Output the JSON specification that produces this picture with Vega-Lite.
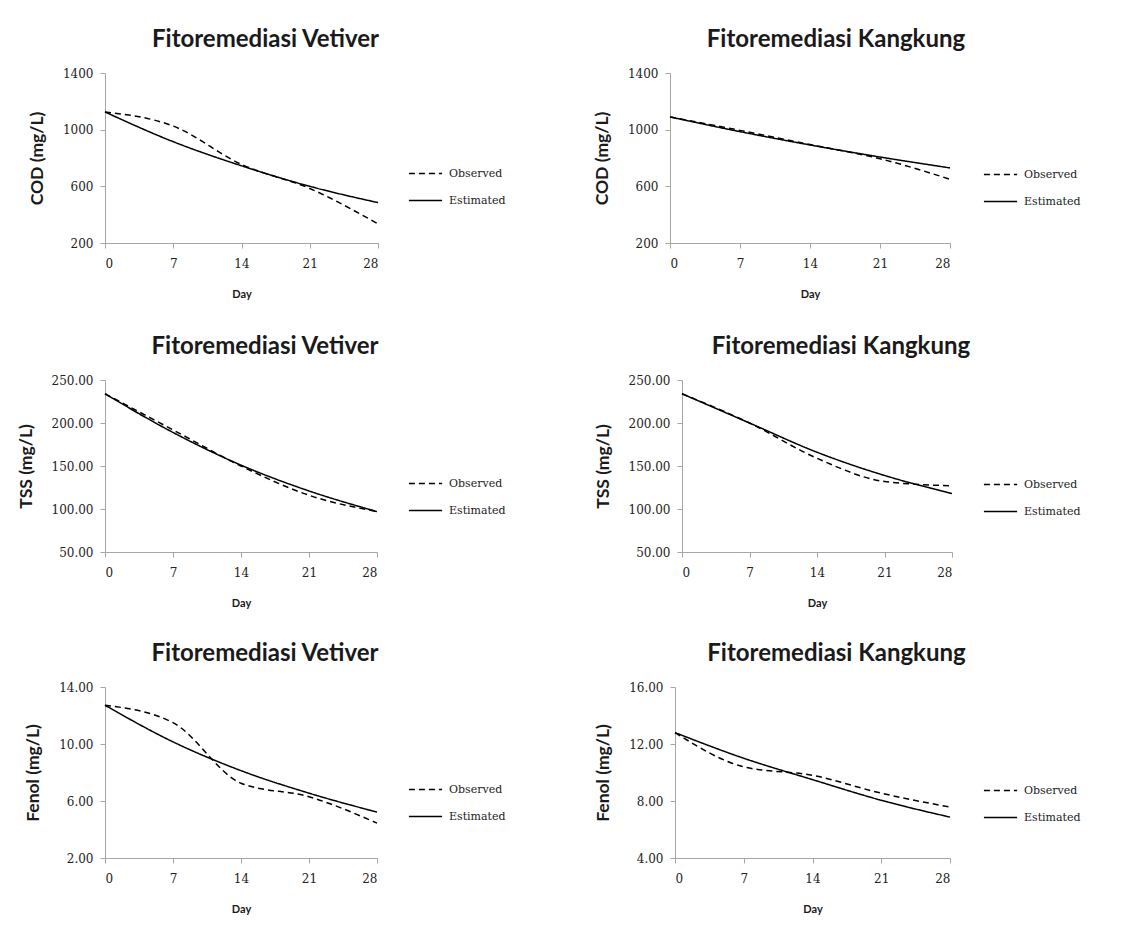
{
  "$schema": "https://vega.github.io/schema/vega-lite/v6.json",
  "background": "white",
  "padding": {"left": 17, "top": 28, "right": 250, "bottom": 5},
  "datasets": {
    "d": [
      {"panel": "COD-V", "series": "Observed", "day": 0, "value": 1125},
      {"panel": "COD-V", "series": "Observed", "day": 7, "value": 1025},
      {"panel": "COD-V", "series": "Observed", "day": 14, "value": 755},
      {"panel": "COD-V", "series": "Observed", "day": 21, "value": 585},
      {"panel": "COD-V", "series": "Observed", "day": 28, "value": 335},
      {"panel": "COD-V", "series": "Estimated", "day": 0, "value": 1125},
      {"panel": "COD-V", "series": "Estimated", "day": 7, "value": 915},
      {"panel": "COD-V", "series": "Estimated", "day": 14, "value": 745},
      {"panel": "COD-V", "series": "Estimated", "day": 21, "value": 600},
      {"panel": "COD-V", "series": "Estimated", "day": 28, "value": 485},
      {"panel": "COD-K", "series": "Observed", "day": 0, "value": 1090},
      {"panel": "COD-K", "series": "Observed", "day": 7, "value": 995},
      {"panel": "COD-K", "series": "Observed", "day": 14, "value": 895},
      {"panel": "COD-K", "series": "Observed", "day": 21, "value": 795},
      {"panel": "COD-K", "series": "Observed", "day": 28, "value": 650},
      {"panel": "COD-K", "series": "Estimated", "day": 0, "value": 1090},
      {"panel": "COD-K", "series": "Estimated", "day": 7, "value": 986},
      {"panel": "COD-K", "series": "Estimated", "day": 14, "value": 892},
      {"panel": "COD-K", "series": "Estimated", "day": 21, "value": 807},
      {"panel": "COD-K", "series": "Estimated", "day": 28, "value": 730},
      {"panel": "TSS-V", "series": "Observed", "day": 0, "value": 234},
      {"panel": "TSS-V", "series": "Observed", "day": 7, "value": 192},
      {"panel": "TSS-V", "series": "Observed", "day": 14, "value": 150},
      {"panel": "TSS-V", "series": "Observed", "day": 21, "value": 116},
      {"panel": "TSS-V", "series": "Observed", "day": 28, "value": 97},
      {"panel": "TSS-V", "series": "Estimated", "day": 0, "value": 234},
      {"panel": "TSS-V", "series": "Estimated", "day": 7, "value": 189},
      {"panel": "TSS-V", "series": "Estimated", "day": 14, "value": 151},
      {"panel": "TSS-V", "series": "Estimated", "day": 21, "value": 121},
      {"panel": "TSS-V", "series": "Estimated", "day": 28, "value": 97},
      {"panel": "TSS-K", "series": "Observed", "day": 0, "value": 234},
      {"panel": "TSS-K", "series": "Observed", "day": 7, "value": 200},
      {"panel": "TSS-K", "series": "Observed", "day": 14, "value": 159},
      {"panel": "TSS-K", "series": "Observed", "day": 21, "value": 132},
      {"panel": "TSS-K", "series": "Observed", "day": 28, "value": 127},
      {"panel": "TSS-K", "series": "Estimated", "day": 0, "value": 234},
      {"panel": "TSS-K", "series": "Estimated", "day": 7, "value": 200},
      {"panel": "TSS-K", "series": "Estimated", "day": 14, "value": 166},
      {"panel": "TSS-K", "series": "Estimated", "day": 21, "value": 139},
      {"panel": "TSS-K", "series": "Estimated", "day": 28, "value": 118},
      {"panel": "Fenol-V", "series": "Observed", "day": 0, "value": 12.72},
      {"panel": "Fenol-V", "series": "Observed", "day": 7, "value": 11.5},
      {"panel": "Fenol-V", "series": "Observed", "day": 14, "value": 7.25},
      {"panel": "Fenol-V", "series": "Observed", "day": 21, "value": 6.3},
      {"panel": "Fenol-V", "series": "Observed", "day": 28, "value": 4.45},
      {"panel": "Fenol-V", "series": "Estimated", "day": 0, "value": 12.72},
      {"panel": "Fenol-V", "series": "Estimated", "day": 7, "value": 10.15},
      {"panel": "Fenol-V", "series": "Estimated", "day": 14, "value": 8.13},
      {"panel": "Fenol-V", "series": "Estimated", "day": 21, "value": 6.55},
      {"panel": "Fenol-V", "series": "Estimated", "day": 28, "value": 5.22},
      {"panel": "Fenol-K", "series": "Observed", "day": 0, "value": 12.8},
      {"panel": "Fenol-K", "series": "Observed", "day": 7, "value": 10.4},
      {"panel": "Fenol-K", "series": "Observed", "day": 14, "value": 9.8},
      {"panel": "Fenol-K", "series": "Observed", "day": 21, "value": 8.55},
      {"panel": "Fenol-K", "series": "Observed", "day": 28, "value": 7.57},
      {"panel": "Fenol-K", "series": "Estimated", "day": 0, "value": 12.8},
      {"panel": "Fenol-K", "series": "Estimated", "day": 7, "value": 11.0},
      {"panel": "Fenol-K", "series": "Estimated", "day": 14, "value": 9.5},
      {"panel": "Fenol-K", "series": "Estimated", "day": 21, "value": 8.05},
      {"panel": "Fenol-K", "series": "Estimated", "day": 28, "value": 6.87}
    ]
  },
  "bounds": "flush",
  "spacing": 307,
  "vconcat": [
    {
      "bounds": "flush",
      "spacing": 292,
      "resolve": {"scale": {"strokeDash": "independent"}, "legend": {"strokeDash": "independent"}},
      "hconcat": [
        {
          "width": 273, "height": 170,
          "data": {"name": "d"},
          "transform": [{"filter": "datum.panel == 'COD-V'"}],
          "title": {"text": "Fitoremediasi Vetiver", "dx": 24},
          "mark": {"type": "line", "interpolate": "monotone", "color": "black", "strokeWidth": 1.5},
          "encoding": {
            "x": {"field": "day", "type": "quantitative", "scale": {"domain": [0, 28], "nice": false}, "axis": {"values": [0, 7, 14, 21, 28], "title": "Day"}},
            "y": {"field": "value", "type": "quantitative", "scale": {"domain": [200, 1400], "nice": false}, "axis": {"values": [200, 600, 1000, 1400], "format": "d", "title": "COD (mg/L)"}},
            "strokeDash": {"field": "series", "type": "nominal", "scale": {"domain": ["Observed", "Estimated"], "range": [[6, 4], [1, 0]]}, "legend": {"legendX": 303, "legendY": 83}}
          }
        },
        {
          "width": 280, "height": 170,
          "data": {"name": "d"},
          "transform": [{"filter": "datum.panel == 'COD-K'"}],
          "title": {"text": "Fitoremediasi Kangkung", "dx": 26},
          "mark": {"type": "line", "interpolate": "monotone", "color": "black", "strokeWidth": 1.5},
          "encoding": {
            "x": {"field": "day", "type": "quantitative", "scale": {"domain": [0, 28], "nice": false}, "axis": {"values": [0, 7, 14, 21, 28], "title": "Day"}},
            "y": {"field": "value", "type": "quantitative", "scale": {"domain": [200, 1400], "nice": false}, "axis": {"values": [200, 600, 1000, 1400], "format": "d", "title": "COD (mg/L)"}},
            "strokeDash": {"field": "series", "type": "nominal", "scale": {"domain": ["Observed", "Estimated"], "range": [[6, 4], [1, 0]]}, "legend": {"legendX": 313, "legendY": 84}}
          }
        }
      ]
    },
    {
      "bounds": "flush",
      "spacing": 305,
      "resolve": {"scale": {"strokeDash": "independent"}, "legend": {"strokeDash": "independent"}},
      "hconcat": [
        {
          "width": 272, "height": 172,
          "data": {"name": "d"},
          "transform": [{"filter": "datum.panel == 'TSS-V'"}],
          "title": {"text": "Fitoremediasi Vetiver", "dx": 24},
          "mark": {"type": "line", "interpolate": "monotone", "color": "black", "strokeWidth": 1.5},
          "encoding": {
            "x": {"field": "day", "type": "quantitative", "scale": {"domain": [0, 28], "nice": false}, "axis": {"values": [0, 7, 14, 21, 28], "title": "Day"}},
            "y": {"field": "value", "type": "quantitative", "scale": {"domain": [50, 250], "nice": false}, "axis": {"values": [50, 100, 150, 200, 250], "format": ".2f", "title": "TSS (mg/L)"}},
            "strokeDash": {"field": "series", "type": "nominal", "scale": {"domain": ["Observed", "Estimated"], "range": [[6, 4], [1, 0]]}, "legend": {"legendX": 303, "legendY": 86}}
          }
        },
        {
          "width": 270, "height": 172,
          "data": {"name": "d"},
          "transform": [{"filter": "datum.panel == 'TSS-K'"}],
          "title": {"text": "Fitoremediasi Kangkung", "dx": 24},
          "mark": {"type": "line", "interpolate": "monotone", "color": "black", "strokeWidth": 1.5},
          "encoding": {
            "x": {"field": "day", "type": "quantitative", "scale": {"domain": [0, 28], "nice": false}, "axis": {"values": [0, 7, 14, 21, 28], "title": "Day"}},
            "y": {"field": "value", "type": "quantitative", "scale": {"domain": [50, 250], "nice": false}, "axis": {"values": [50, 100, 150, 200, 250], "format": ".2f", "title": "TSS (mg/L)"}},
            "strokeDash": {"field": "series", "type": "nominal", "scale": {"domain": ["Observed", "Estimated"], "range": [[6, 4], [1, 0]]}, "legend": {"legendX": 301, "legendY": 87}}
          }
        }
      ]
    },
    {
      "bounds": "flush",
      "spacing": 298,
      "resolve": {"scale": {"strokeDash": "independent"}, "legend": {"strokeDash": "independent"}},
      "hconcat": [
        {
          "width": 272, "height": 171,
          "data": {"name": "d"},
          "transform": [{"filter": "datum.panel == 'Fenol-V'"}],
          "title": {"text": "Fitoremediasi Vetiver", "dx": 24},
          "mark": {"type": "line", "interpolate": "monotone", "color": "black", "strokeWidth": 1.5},
          "encoding": {
            "x": {"field": "day", "type": "quantitative", "scale": {"domain": [0, 28], "nice": false}, "axis": {"values": [0, 7, 14, 21, 28], "title": "Day"}},
            "y": {"field": "value", "type": "quantitative", "scale": {"domain": [2, 14], "nice": false}, "axis": {"values": [2, 6, 10, 14], "format": ".2f", "title": "Fenol (mg/L)"}},
            "strokeDash": {"field": "series", "type": "nominal", "scale": {"domain": ["Observed", "Estimated"], "range": [[6, 4], [1, 0]]}, "legend": {"legendX": 303, "legendY": 85}}
          }
        },
        {
          "width": 275, "height": 171,
          "data": {"name": "d"},
          "transform": [{"filter": "datum.panel == 'Fenol-K'"}],
          "title": {"text": "Fitoremediasi Kangkung", "dx": 24},
          "mark": {"type": "line", "interpolate": "monotone", "color": "black", "strokeWidth": 1.5},
          "encoding": {
            "x": {"field": "day", "type": "quantitative", "scale": {"domain": [0, 28], "nice": false}, "axis": {"values": [0, 7, 14, 21, 28], "title": "Day"}},
            "y": {"field": "value", "type": "quantitative", "scale": {"domain": [4, 16], "nice": false}, "axis": {"values": [4, 8, 12, 16], "format": ".2f", "title": "Fenol (mg/L)"}},
            "strokeDash": {"field": "series", "type": "nominal", "scale": {"domain": ["Observed", "Estimated"], "range": [[6, 4], [1, 0]]}, "legend": {"legendX": 308, "legendY": 86}}
          }
        }
      ]
    }
  ],
  "resolve": {"scale": {"strokeDash": "independent"}, "legend": {"strokeDash": "independent"}},
  "config": {
    "view": {"stroke": null},
    "title": {"font": "Lato", "fontSize": 24, "fontWeight": "bold", "color": "#1a1a1a", "anchor": "middle", "frame": "group", "offset": 15},
    "axis": {"grid": false, "domainColor": "#a6a6a6", "tickColor": "#a6a6a6", "tickSize": 5, "labelFont": "DejaVu Serif", "labelFontSize": 12, "labelColor": "#222222", "titleFont": "Lato", "titleFontWeight": "bold", "titleColor": "#1a1a1a"},
    "axisX": {"labelPadding": 10, "titleFontSize": 11, "titlePadding": 19, "labelAngle": 0},
    "axisY": {"labelPadding": 7, "titleFontSize": 17.5, "titlePadding": 16},
    "legend": {"orient": "none", "title": null, "symbolType": "stroke", "symbolStrokeColor": "black", "symbolStrokeWidth": 1.5, "symbolSize": 1100, "labelFont": "DejaVu Serif", "labelFontSize": 11, "labelColor": "#222222", "labelOffset": 6, "rowPadding": 4}
  }
}
